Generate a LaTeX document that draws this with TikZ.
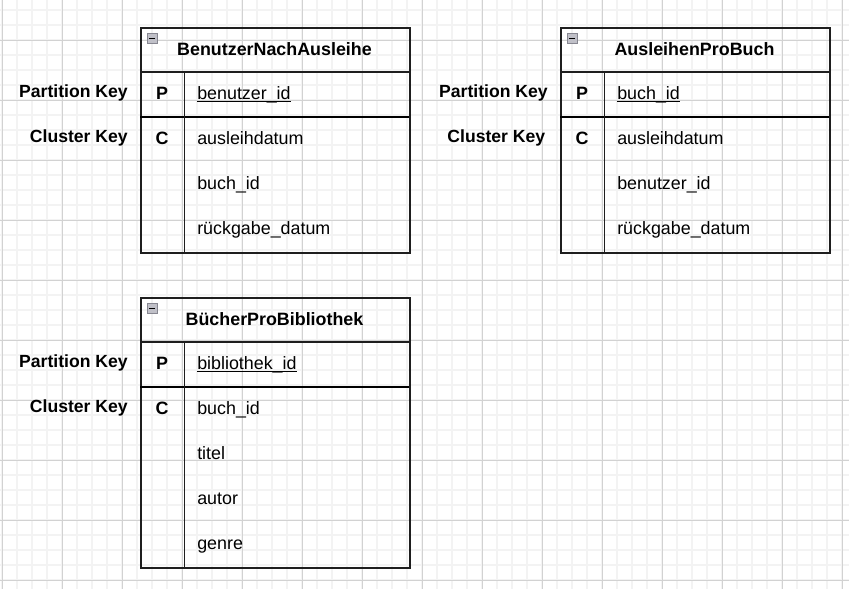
\documentclass[tikz,border=0pt]{standalone}
\usepackage{fontspec}
\setmainfont{Liberation Sans}
\usetikzlibrary{calc}
\definecolor{gridminor}{RGB}{243,243,243}
\definecolor{gridmajor}{RGB}{210,210,210}
\definecolor{iconfill}{RGB}{192,192,200}
\definecolor{icondraw}{RGB}{135,135,145}
\definecolor{tabline}{RGB}{30,30,30}
\tikzset{
  minorgrid/.style={gridminor, line width=1.25pt},
  majorgrid/.style={gridmajor, line width=0.75pt},
  tbl/.style={draw=tabline, line width=1.2pt, minimum width=201.75pt, inner sep=0pt, rectangle},
  hline/.style={tabline, line width=0.9pt},
  keyline/.style={black, line width=1.3pt},
  divline/.style={tabline, line width=1pt},
  iconbox/.style={draw=icondraw, fill=iconfill, line width=0.6pt},
  iconbar/.style={black, line width=0.8pt},
  txt/.style={font=\fontsize{13.4pt}{16pt}\selectfont, inner sep=0pt, text=black},
  title/.style={txt, font=\fontsize{13.4pt}{16pt}\selectfont\bfseries, anchor=base},
  keyletter/.style={txt, font=\fontsize{13.4pt}{16pt}\selectfont\bfseries, anchor=base},
  keylabel/.style={txt, font=\fontsize{13.2pt}{16pt}\selectfont\bfseries, anchor=base east},
  field/.style={txt, anchor=base west},
  uline/.style={black, line width=0.75pt},
}
% #1 name, #2 x, #3 y, #4 number of cluster rows
\newcommand\erdtab[4]{%
  \pgfmathsetmacro\tabh{90+45*#4}%
  \node[tbl, minimum height=\tabh*0.75pt, anchor=north west] (#1) at (#2,#3) {};
  \draw[hline] (#2,#3+45) -- (#2+269,#3+45);
  \draw[keyline] (#2,#3+90) -- (#2+269,#3+90);
  \draw[divline] (#2+44.5,#3+45) -- (#2+44.5,#3+\tabh);
  \draw[iconbox] (#2+7,#3+6) rectangle (#2+17.5,#3+16.5);
  \draw[iconbar] (#2+9.2,#3+11.2) -- (#2+15.3,#3+11.2);
}
\begin{document}
\begin{tikzpicture}[x=0.75pt,y=-0.75pt]
\useasboundingbox (0,0) rectangle (849,589);
% grid
\foreach \gx in {2,17,...,842} \draw[minorgrid] (\gx,0) -- (\gx,589);
\foreach \gy in {10,25,...,580} \draw[minorgrid] (0,\gy) -- (849,\gy);
\foreach \gx in {2,62,...,842} \draw[majorgrid] (\gx,0) -- (\gx,589);
\foreach \gy in {40,100,...,580} \draw[majorgrid] (0,\gy) -- (849,\gy);

% ---------- Table 1 ----------
\erdtab{t1}{140}{27}{3}
\node[title] (t1title) at (274.5,55) {BenutzerNachAusleihe};
\node[keyletter] (t1p) at (162,99.3) {P};
\node[keyletter] (t1c) at (162,144.7) {C};
\node[field] (t1f1) at (197,99.3) {benutzer\_id};
\draw[uline] ([yshift=-1.6pt]t1f1.base west) -- ([yshift=-1.6pt]t1f1.base east);
\node[field] (t1f2) at (197,144.7) {ausleihdatum};
\node[field] (t1f3) at (197,189.7) {buch\_id};
\node[field] (t1f4) at (197,234.7) {rückgabe\_datum};
\node[keylabel] (t1pk) at (128,97.3) {Partition Key};
\node[keylabel] (t1ck) at (128,142.7) {Cluster Key};

% ---------- Table 2 ----------
\erdtab{t2}{560}{27}{3}
\node[title] (t2title) at (694.5,55) {AusleihenProBuch};
\node[keyletter] (t2p) at (582,99.3) {P};
\node[keyletter] (t2c) at (582,144.7) {C};
\node[field] (t2f1) at (617,99.3) {buch\_id};
\draw[uline] ([yshift=-1.6pt]t2f1.base west) -- ([yshift=-1.6pt]t2f1.base east);
\node[field] (t2f2) at (617,144.7) {ausleihdatum};
\node[field] (t2f3) at (617,189.7) {benutzer\_id};
\node[field] (t2f4) at (617,234.7) {rückgabe\_datum};
\node[keylabel] (t2pk) at (548,97.3) {Partition Key};
\node[keylabel] (t2ck) at (545.5,142.7) {Cluster Key};

% ---------- Table 3 ----------
\erdtab{t3}{140}{297}{4}
\node[title] (t3title) at (274.5,325) {BücherProBibliothek};
\node[keyletter] (t3p) at (162,369.3) {P};
\node[keyletter] (t3c) at (162,414.7) {C};
\node[field] (t3f1) at (197,369.3) {bibliothek\_id};
\draw[uline] ([yshift=-1.6pt]t3f1.base west) -- ([yshift=-1.6pt]t3f1.base east);
\node[field] (t3f2) at (197,414.7) {buch\_id};
\node[field] (t3f3) at (197,459.7) {titel};
\node[field] (t3f4) at (197,504.7) {autor};
\node[field] (t3f5) at (197,549.7) {genre};
\node[keylabel] (t3pk) at (128,367.3) {Partition Key};
\node[keylabel] (t3ck) at (128,412.7) {Cluster Key};
\end{tikzpicture}
\end{document}
